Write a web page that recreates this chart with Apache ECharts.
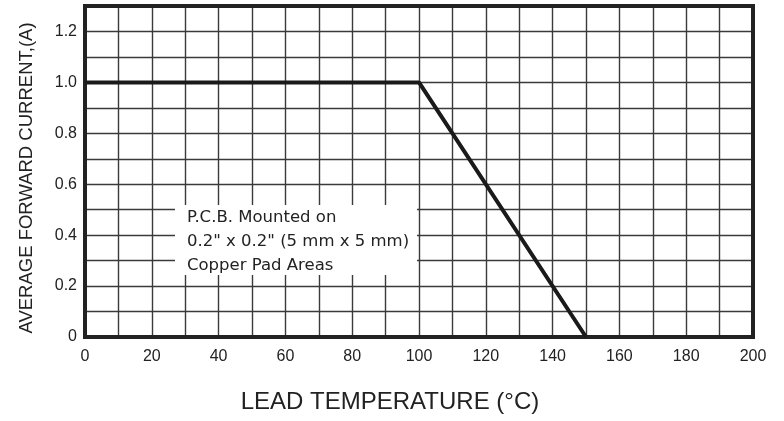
<!DOCTYPE html>
<html>
<head>
<meta charset="utf-8">
<script src="https://cdn.jsdelivr.net/npm/echarts@6/dist/echarts.min.js"></script>
<style>
  html, body { margin: 0; padding: 0; background: #fff; }
  #chart { width: 784px; height: 421px; }
</style>
</head>
<body>
<div id="chart"></div>
<script>
// derating curve: lead temperature (°C) vs average forward current (A)
var temps = [0, 100, 150];
var current = [1.0, 1.0, 0];
var noteLines = ['P.C.B. Mounted on', '0.2" x 0.2" (5 mm x 5 mm)', 'Copper Pad Areas'];

var myChart = echarts.init(document.getElementById('chart'));
var font = 'Liberation Sans, Arial, sans-serif';

var option = {
    animation: false,
    grid: {
        left: 85, right: 31, top: 6, bottom: 84,
        containLabel: false,
        outerBoundsMode: 'none',
        show: true,
        borderColor: '#222',
        borderWidth: 4,
        z: 3
    },
    xAxis: {
        type: 'value',
        min: 0, max: 200, interval: 10,
        name: 'LEAD TEMPERATURE (\u00b0C)',
        nameLocation: 'middle',
        nameGap: 53,
        nameTextStyle: { fontFamily: font, fontSize: 24, color: '#222', padding: [0, 58, 0, 0] },
        axisLine: { show: false },
        axisTick: { show: false },
        axisLabel: {
            fontFamily: font, fontSize: 16, color: '#222', margin: 12,
            formatter: function (v) { return v % 20 === 0 ? String(v) : ''; }
        },
        splitLine: { show: true, lineStyle: { color: '#3a3a3a', width: 1.4 } }
    },
    yAxis: {
        type: 'value',
        min: 0, max: 1.3, interval: 0.1,
        name: 'AVERAGE FORWARD CURRENT,(A)',
        nameLocation: 'middle',
        nameGap: 49,
        nameTextStyle: { fontFamily: font, fontSize: 18.5, color: '#222', padding: [0, 13, 0, 0] },
        axisLine: { show: false },
        axisTick: { show: false },
        axisLabel: {
            fontFamily: font, fontSize: 16, color: '#222', margin: 8,
            formatter: function (v) {
                var k = Math.round(v * 10);
                if (k % 2 !== 0) return '';
                return k === 0 ? '0' : (k / 10).toFixed(1);
            }
        },
        splitLine: { show: true, lineStyle: { color: '#3a3a3a', width: 1.4 } }
    },
    graphic: [{
        type: 'rect',
        shape: { x: 175, y: 205, width: 242, height: 70 },
        style: { fill: '#fff' },
        z: 10
    }, {
        type: 'text',
        x: 187,
        y: 206,
        z: 11,
        style: {
            text: noteLines.join('\n'),
            fontFamily: 'DejaVu Sans, sans-serif',
            fontSize: 16.5,
            lineHeight: 24,
            fill: '#222'
        }
    }],
    series: [{
        type: 'line',
        data: temps.map(function (t, i) { return [t, current[i]]; }),
        symbol: 'none',
        lineStyle: { color: '#1a1a1a', width: 4 },
        z: 5
    }]
};
option && myChart.setOption(option);
</script>
</body>
</html>
